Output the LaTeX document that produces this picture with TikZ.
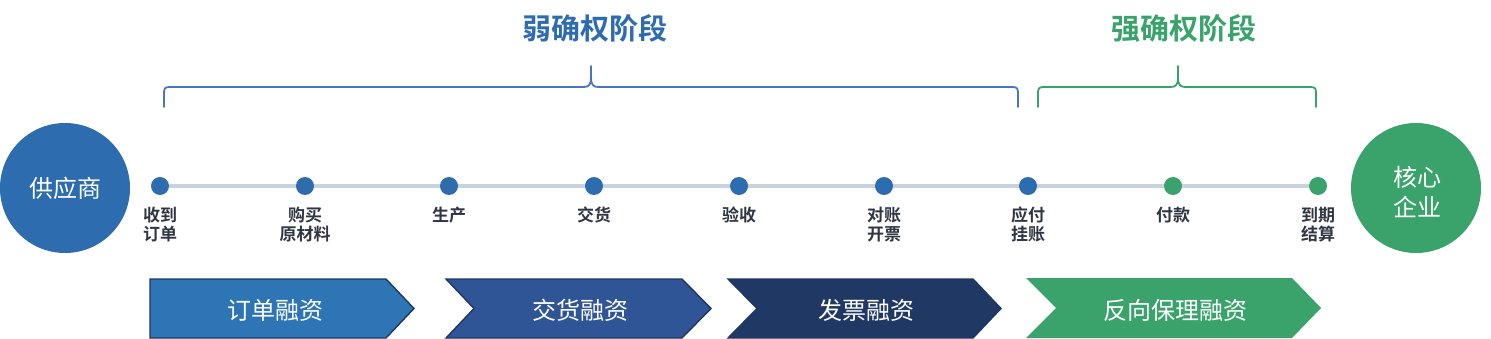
\documentclass[tikz,border=0pt]{standalone}
\usepackage{fontspec}
\newfontfamily\cjk{Noto Sans CJK SC}[BoldFont=Noto Sans CJK SC Bold]
\definecolor{cblue}{HTML}{2E6CB0}
\definecolor{cgreen}{HTML}{3AA36B}
\definecolor{bblue}{HTML}{4A74C4}
\definecolor{tline}{HTML}{C9D3DF}
\definecolor{ltext}{HTML}{2F3542}
\definecolor{ch1}{HTML}{2E75B6}
\definecolor{ch2}{HTML}{2F5597}
\definecolor{ch3}{HTML}{203864}
\definecolor{chb}{HTML}{1F3760}
\begin{document}
\begin{tikzpicture}[x=1pt,y=-1pt,
  bigcirc/.style={circle,minimum size=130pt,inner sep=0pt,text=white,align=center,
    font=\cjk\fontsize{24}{30}\selectfont},
  dot/.style={circle,minimum size=18pt,inner sep=0pt},
  lbl/.style={text=ltext,align=center,inner sep=0pt,font=\cjk\bfseries\fontsize{17}{18.5}\selectfont},
  chtext/.style={text=white,inner sep=0pt,font=\cjk\fontsize{24}{26}\selectfont},
  title/.style={inner sep=0pt,font=\cjk\bfseries\fontsize{29}{32}\selectfont},
  brace/.style={line width=1.8pt,line cap=round,line join=round},
  chev/.style={line width=1.4pt,draw=chb,line join=miter}]
\useasboundingbox (0,0) rectangle (1491,339);
% titles
\node[title,text=cblue] (t1) at (595,28) {弱确权阶段};
\node[title,text=cgreen] (t2) at (1184,28) {强确权阶段};
% braces
\draw[brace,bblue] (164,107) -- (164,93) .. controls (164,88.5) and (165,87) .. (169.5,87)
  -- (584,87) .. controls (589,87) and (591,84) .. (591,78) -- (591,66)
  (591,66) -- (591,78) .. controls (591,84) and (593,87) .. (598,87)
  -- (1012.5,87) .. controls (1017,87) and (1018,88.5) .. (1018,93) -- (1018,107);
\draw[brace,cgreen] (1038,107) -- (1038,93) .. controls (1038,88.5) and (1039,87) .. (1043.5,87)
  -- (1171,87) .. controls (1176,87) and (1178,84) .. (1178,78) -- (1178,66)
  (1178,66) -- (1178,78) .. controls (1178,84) and (1180,87) .. (1185,87)
  -- (1310.5,87) .. controls (1315,87) and (1316,88.5) .. (1316,93) -- (1316,107);
% circles
\node[bigcirc,fill=cblue] (sup) at (65,188) {供应商};
\node[bigcirc,fill=cgreen] (core) at (1416,188) {};
\node[text=white,align=center,inner sep=0pt,font=\cjk\fontsize{24}{30}\selectfont] (coret) at (1417,192) {核心\\企业};
% timeline
\coordinate (p1) at (160,186);
\coordinate (p2) at (305,186);
\coordinate (p3) at (449,186);
\coordinate (p4) at (594,186);
\coordinate (p5) at (739,186);
\coordinate (p6) at (884,186);
\coordinate (p7) at (1028,186);
\coordinate (p8) at (1173,186);
\coordinate (p9) at (1318,186);
\draw[tline,line width=4pt] (p1) -- (p9);
\foreach \i in {1,...,7} {\node[dot,fill=cblue] (d\i) at (p\i) {};}
\foreach \i in {8,9} {\node[dot,fill=cgreen] (d\i) at (p\i) {};}
% labels
\node[lbl] (l1) at (160,224.5) {收到\\订单};
\node[lbl] (l2) at (305,224.5) {购买\\原材料};
\node[lbl] (l3) at (449,215) {生产};
\node[lbl] (l4) at (594,215) {交货};
\node[lbl] (l5) at (739,215) {验收};
\node[lbl] (l6) at (884,224.5) {对账\\开票};
\node[lbl] (l7) at (1028,224.5) {应付\\挂账};
\node[lbl] (l8) at (1173,215) {付款};
\node[lbl] (l9) at (1318,224.5) {到期\\结算};
% chevrons
\draw[chev,fill=ch1] (150,279) -- (386,279) -- (414,308.5) -- (386,338) -- (150,338) -- cycle;
\draw[chev,fill=ch2] (446,279) -- (682,279) -- (711,308.5) -- (682,338) -- (446,338) -- (474,308.5) -- cycle;
\draw[chev,fill=ch3] (728,279) -- (973,279) -- (1001,308.5) -- (973,338) -- (728,338) -- (757,308.5) -- cycle;
\fill[cgreen] (1026,278) -- (1292,278) -- (1321,308) -- (1292,338) -- (1026,338) -- (1056,308) -- cycle;
\node[chtext] (c1) at (275,310) {订单融资};
\node[chtext] (c2) at (580,310) {交货融资};
\node[chtext] (c3) at (866,310) {发票融资};
\node[chtext] (c4) at (1175,310) {反向保理融资};
\end{tikzpicture}
\end{document}
